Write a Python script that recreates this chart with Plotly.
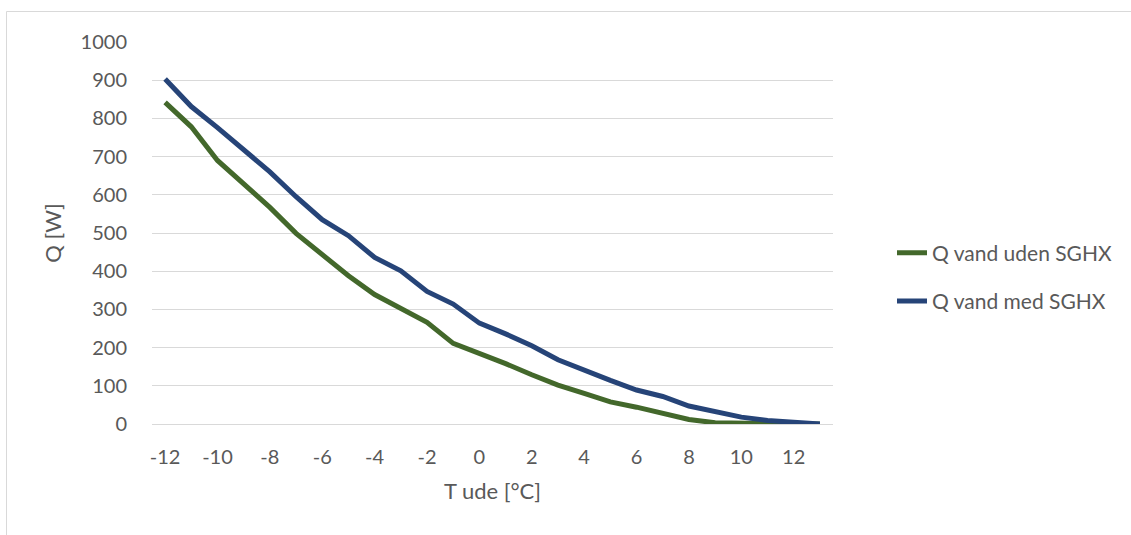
import plotly.graph_objects as go

t_ude = [-12, -11, -10, -9, -8, -7, -6, -5, -4, -3, -2, -1, 0, 1, 2, 3, 4, 5, 6, 7, 8, 9, 10, 11, 12, 13]
q_uden = [842, 778, 690, 630, 567, 499, 444, 388, 339, 302, 266, 211, 185, 158, 129, 102, 80, 58, 44, 29, 12, 3, 1, 0, 0, 0]
q_med = [903, 831, 776, 720, 660, 595, 535, 493, 436, 401, 347, 314, 264, 236, 205, 168, 140, 114, 89, 72, 47, 31, 18, 9, 4, 0]
x_ticks = [-12, -10, -8, -6, -4, -2, 0, 2, 4, 6, 8, 10, 12]
y_ticks = [0, 100, 200, 300, 400, 500, 600, 700, 800, 900, 1000]

FONT = "Lato"
TXT = "#595959"
GRID = "#D9D9D9"

fig = go.Figure()
fig.add_trace(go.Scatter(x=t_ude, y=q_uden, mode="lines", name="Q vand uden SGHX",
                         legendgroup="a",
                         line=dict(color="#43682B", width=5)))
fig.add_trace(go.Scatter(x=t_ude, y=q_med, mode="lines", name="Q vand med SGHX",
                         legendgroup="b",
                         line=dict(color="#264478", width=5)))

L, R, T, B = 152, 833, 42, 424
W, H = 1131, 535
pw, ph = R - L, B - T

def px(X):
    return (X - L) / pw

def py(Y):
    return (B - Y) / ph

fig.add_shape(type="rect", xref="paper", yref="paper",
              x0=px(6.5), x1=px(1140), y0=py(545), y1=py(11.5),
              line=dict(color=GRID, width=1), fillcolor="rgba(0,0,0,0)", layer="below")

fig.update_layout(
    width=W, height=H,
    margin=dict(l=L, r=W - R, t=T, b=H - B, autoexpand=False),
    paper_bgcolor="white", plot_bgcolor="white",
    font=dict(family=FONT, size=20, color=TXT),
    legend=dict(x=px(892), xanchor="left", y=py(277), yanchor="middle",
                tracegroupgap=18, font=dict(size=21, color=TXT),
                bgcolor="rgba(0,0,0,0)"),
    xaxis=dict(range=[-12.5, 13.5], tickvals=x_ticks, ticktext=[str(v) for v in x_ticks],
               showgrid=False, zeroline=False, showline=True, linecolor=GRID, linewidth=1.3,
               ticks="outside", ticklen=15, tickcolor="rgba(0,0,0,0)",
               tickfont=dict(size=20, color=TXT),
               title=dict(text="T ude [°C]", standoff=16, font=dict(size=22, color=TXT))),
    yaxis=dict(range=[0, 1000], tickvals=y_ticks,
               showgrid=True, gridcolor=GRID, gridwidth=1.3, zeroline=True, zerolinecolor=GRID,
               zerolinewidth=1.3, showline=False,
               ticks="outside", ticklen=20, tickcolor="rgba(0,0,0,0)",
               tickfont=dict(size=20, color=TXT),
               title=dict(text="Q [W]", standoff=12, font=dict(size=22, color=TXT))),
)

fig.write_html("out.html")
